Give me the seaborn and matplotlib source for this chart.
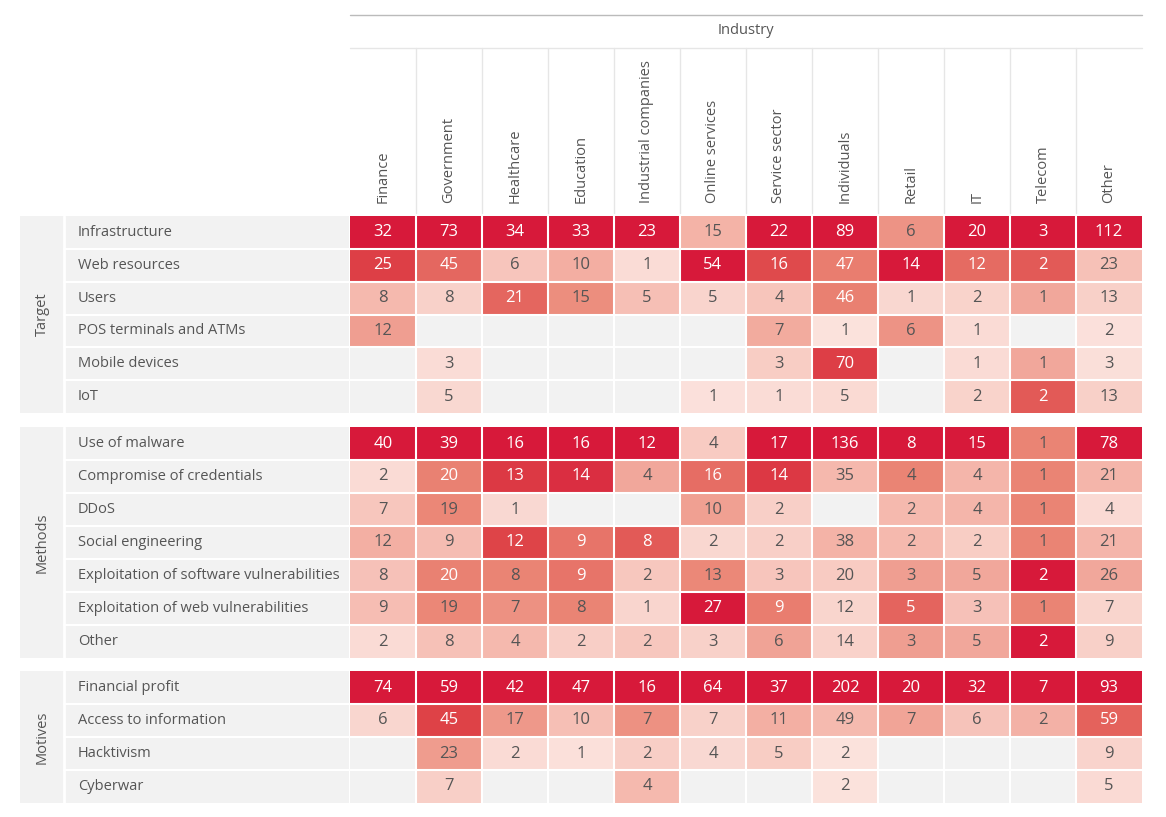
import numpy as np
import matplotlib
matplotlib.use("Agg")
import matplotlib.pyplot as plt
from matplotlib.colors import LinearSegmentedColormap
from matplotlib.patches import Rectangle
import seaborn as sns

sns.set_theme(style="white")
plt.rcParams['font.family'] = ['Open Sans', 'DejaVu Sans']

n = np.nan
industries = ["Finance", "Government", "Healthcare", "Education", "Industrial companies",
              "Online services", "Service sector", "Individuals", "Retail", "IT", "Telecom", "Other"]

target_rows = ["Infrastructure", "Web resources", "Users", "POS terminals and ATMs", "Mobile devices", "IoT"]
target_vals = [
    [32, 73, 34, 33, 23, 15, 22, 89, 6, 20, 3, 112],
    [25, 45, 6, 10, 1, 54, 16, 47, 14, 12, 2, 23],
    [8, 8, 21, 15, 5, 5, 4, 46, 1, 2, 1, 13],
    [12, n, n, n, n, n, 7, 1, 6, 1, n, 2],
    [n, 3, n, n, n, n, 3, 70, n, 1, 1, 3],
    [n, 5, n, n, n, 1, 1, 5, n, 2, 2, 13],
]
methods_rows = ["Use of malware", "Compromise of credentials", "DDoS", "Social engineering",
                "Exploitation of software vulnerabilities", "Exploitation of web vulnerabilities", "Other"]
methods_vals = [
    [40, 39, 16, 16, 12, 4, 17, 136, 8, 15, 1, 78],
    [2, 20, 13, 14, 4, 16, 14, 35, 4, 4, 1, 21],
    [7, 19, 1, n, n, 10, 2, n, 2, 4, 1, 4],
    [12, 9, 12, 9, 8, 2, 2, 38, 2, 2, 1, 21],
    [8, 20, 8, 9, 2, 13, 3, 20, 3, 5, 2, 26],
    [9, 19, 7, 8, 1, 27, 9, 12, 5, 3, 1, 7],
    [2, 8, 4, 2, 2, 3, 6, 14, 3, 5, 2, 9],
]
motives_rows = ["Financial profit", "Access to information", "Hacktivism", "Cyberwar"]
motives_vals = [
    [74, 59, 42, 47, 16, 64, 37, 202, 20, 32, 7, 93],
    [6, 45, 17, 10, 7, 7, 11, 49, 7, 6, 2, 59],
    [n, 23, 2, 1, 2, 4, 5, 2, n, n, n, 9],
    [n, 7, n, n, 4, n, n, 2, n, n, n, 5],
]
groups = [("Target", target_rows, target_vals, 216, 413),
          ("Methods", methods_rows, methods_vals, 427, 658),
          ("Motives", motives_rows, motives_vals, 671, 803)]

W, H = 1166, 817
fig = plt.figure(figsize=(W / 100, H / 100), dpi=100)
cmap = LinearSegmentedColormap.from_list("r", ["#fbe3de", "#f5b9ae", "#ea8474", "#de4548", "#d7193a"])
empty = "#f2f2f2"
x0, x1 = 350, 1142
txt = "#555555"

def fx(px): return px / W
def fy(py): return 1 - py / H

# header
fig.add_artist(plt.Line2D([fx(x0), fx(x1)], [fy(15), fy(15)], color="#bbbbbb", lw=1))
fig.text(fx((x0 + x1) / 2), fy(31), "Industry", ha="center", va="center", fontsize=10.5, color=txt)
fig.add_artist(plt.Line2D([fx(x0), fx(x1)], [fy(48), fy(48)], color="#e6e6e6", lw=1))
cw = (x1 - x0) / len(industries)
for i, name in enumerate(industries):
    if i > 0:
        xx = fx(x0 + i * cw)
        fig.add_artist(plt.Line2D([xx, xx], [fy(213), fy(48)], color="#e6e6e6", lw=1))
    fig.text(fx(x0 + (i + 0.5) * cw), fy(203), name, rotation=90, ha="center", va="bottom",
             fontsize=10.5, color=txt)

for gname, rows, vals, top, bot in groups:
    arr = np.array(vals, dtype=float)
    norm = arr / np.nanmax(arr, axis=0, keepdims=True)
    fig.add_artist(Rectangle((fx(20), fy(bot)), fx(x0 - 20 - 1), (bot - top) / H, color="#f2f2f2", lw=0))
    fig.add_artist(plt.Line2D([fx(64), fx(64)], [fy(top), fy(bot)], color="white", lw=2))
    fig.text(fx(42), fy((top + bot) / 2), gname, rotation=90, ha="center", va="center",
             fontsize=10.5, color=txt)
    rh = (bot - top) / len(rows)
    for j, r in enumerate(rows):
        fig.text(fx(78), fy(top + (j + 0.5) * rh), r, ha="left", va="center", fontsize=10.5, color=txt)
        if j > 0:
            fig.add_artist(plt.Line2D([fx(64), fx(x0)], [fy(top + j * rh), fy(top + j * rh)],
                                      color="white", lw=1.5))
    ax = fig.add_axes([fx(x0), fy(bot), fx(x1 - x0), (bot - top) / H])
    ax.set_facecolor(empty)
    sns.heatmap(norm, ax=ax, cmap=cmap, vmin=0, vmax=1, cbar=False, annot=False, linewidths=0)
    for j in range(arr.shape[0]):
        for i in range(arr.shape[1]):
            v = arr[j, i]
            if not np.isnan(v):
                ax.text(i + 0.5, j + 0.5, f"{int(v)}", ha="center", va="center", fontsize=12,
                        color="white" if norm[j, i] > 0.5 else txt)
    for i in range(1, arr.shape[1]):
        ax.axvline(i, color="white", lw=1.5)
    for j in range(1, arr.shape[0]):
        ax.axhline(j, color="white", lw=1.5)
    ax.set_xticks([]); ax.set_yticks([])
    for s in ax.spines.values():
        s.set_visible(False)

fig.savefig("out.png", dpi=100, facecolor="white")
